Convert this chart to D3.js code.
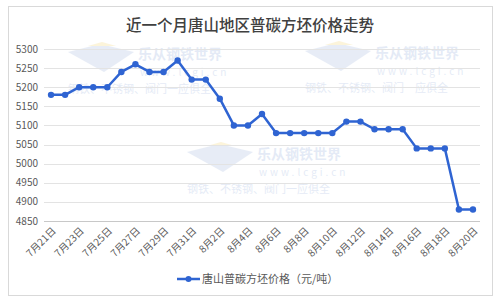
<!DOCTYPE html>
<html>
<head>
<meta charset="utf-8">
<script src="https://cdn.jsdelivr.net/npm/d3@7"></script>
<style>
  html, body { margin: 0; padding: 0; background: #fff; }
  svg { display: block; font-family: "Noto Sans CJK SC", "Noto Sans", sans-serif; }
</style>
</head>
<body>
<div id="chart"></div>
<script>
var dates = ["7月21日","7月22日","7月23日","7月24日","7月25日","7月26日","7月27日","7月28日",
  "7月29日","7月30日","7月31日","8月1日","8月2日","8月3日","8月4日","8月5日","8月6日",
  "8月7日","8月8日","8月9日","8月10日","8月11日","8月12日","8月13日","8月14日","8月15日",
  "8月16日","8月17日","8月18日","8月19日","8月20日"];
var prices = [5180,5180,5200,5200,5200,5240,5260,5240,5240,5270,5220,5220,5170,5100,5100,
  5130,5080,5080,5080,5080,5080,5110,5110,5090,5090,5090,5040,5040,5040,4880,4880];
var yTicks = [4850,4900,4950,5000,5050,5100,5150,5200,5250,5300];
var title = "近一个月唐山地区普碳方坯价格走势";
var seriesName = "唐山普碳方坯价格（元/吨）";

var width = 499, height = 301,
    plotLeft = 44, plotRight = 480, plotTop = 49, plotBottom = 221,
    blue = "#2f64d2";

var svg = d3.select("#chart").append("svg")
    .attr("width", width)
    .attr("height", height);

// frame
svg.append("rect")
    .attr("x", 8.5).attr("y", 6.5)
    .attr("width", 484).attr("height", 289)
    .attr("fill", "#fff")
    .attr("stroke", "#d9d9d9");

var x = d3.scalePoint()
    .domain(dates)
    .range([plotLeft, plotRight])
    .padding(0.5);

var y = d3.scaleLinear()
    .domain([4850, 5300])
    .range([plotBottom, plotTop]);

// watermarks
function watermark(lx, ty) {
  var g = svg.append("g").attr("opacity", 0.2);
  g.append("path")
      .attr("d", "M" + lx + "," + (ty - 2) + " l32,-8 l34,8 l-30,20 z")
      .attr("fill", "#8aa6d6");
  g.append("path")
      .attr("d", "M" + (lx + 20) + "," + (ty - 8) + " l14,-4 l14,4 z")
      .attr("fill", "#f2c94c");
  g.append("text")
      .attr("x", lx + 70).attr("y", ty + 5)
      .attr("font-size", 14).attr("font-weight", "bold")
      .attr("fill", "#7b9bd3")
      .text("乐从钢铁世界");
  g.append("text")
      .attr("x", lx + 72).attr("y", ty + 22)
      .attr("font-size", 10).attr("letter-spacing", 3)
      .attr("fill", "#7b9bd3")
      .text("www.lcgi.cn");
  g.append("text")
      .attr("x", lx).attr("y", ty + 39)
      .attr("font-size", 11)
      .attr("fill", "#7b9bd3")
      .text("钢铁、不锈钢、阀门一应俱全");
}
watermark(68, 54);
watermark(305, 53);
watermark(187, 154);

// gridlines
svg.append("g")
  .selectAll("line")
  .data(yTicks)
  .enter().append("line")
    .attr("x1", plotLeft).attr("x2", plotRight)
    .attr("y1", function(d) { return Math.round(y(d)) + 0.5; })
    .attr("y2", function(d) { return Math.round(y(d)) + 0.5; })
    .attr("stroke", function(d) { return d === 4850 ? "#c8c8c8" : "#e3e3e3"; });

// y labels
svg.append("g")
  .selectAll("text")
  .data(yTicks)
  .enter().append("text")
    .attr("x", 38)
    .attr("y", function(d) { return y(d); })
    .attr("dy", "0.35em")
    .attr("text-anchor", "end")
    .attr("font-size", 10)
    .attr("fill", "#595959")
    .text(function(d) { return d; });

// x labels
svg.append("g")
  .selectAll("text")
  .data(dates.filter(function(d, i) { return i % 2 === 0; }))
  .enter().append("text")
    .attr("transform", function(d) { return "translate(" + (x(d) + 3) + "," + (plotBottom + 8) + ")rotate(-45)"; })
    .attr("text-anchor", "end")
    .attr("dy", "0.35em")
    .attr("font-size", 10)
    .attr("fill", "#595959")
    .text(function(d) { return d; });

// line
var line = d3.line()
    .x(function(d, i) { return x(dates[i]); })
    .y(function(d) { return y(d); });

svg.append("path")
    .datum(prices)
    .attr("d", line)
    .attr("fill", "none")
    .attr("stroke", blue)
    .attr("stroke-width", 2.5)
    .attr("stroke-linejoin", "round");

svg.append("g")
  .selectAll("circle")
  .data(prices)
  .enter().append("circle")
    .attr("cx", function(d, i) { return x(dates[i]); })
    .attr("cy", function(d) { return y(d); })
    .attr("r", 3.2)
    .attr("fill", blue);

// title
svg.append("text")
    .attr("x", 250).attr("y", 26)
    .attr("dy", "0.35em")
    .attr("text-anchor", "middle")
    .attr("font-size", 15.5)
    .attr("font-weight", 500)
    .attr("fill", "#404040")
    .text(title);

// legend
svg.append("line")
    .attr("x1", 177).attr("x2", 200)
    .attr("y1", 279).attr("y2", 279)
    .attr("stroke", blue).attr("stroke-width", 2.5);
svg.append("circle")
    .attr("cx", 188.5).attr("cy", 279).attr("r", 3)
    .attr("fill", blue);
svg.append("text")
    .attr("x", 202).attr("y", 279)
    .attr("dy", "0.35em")
    .attr("font-size", 11)
    .attr("fill", "#595959")
    .text(seriesName);
</script>
</body>
</html>
